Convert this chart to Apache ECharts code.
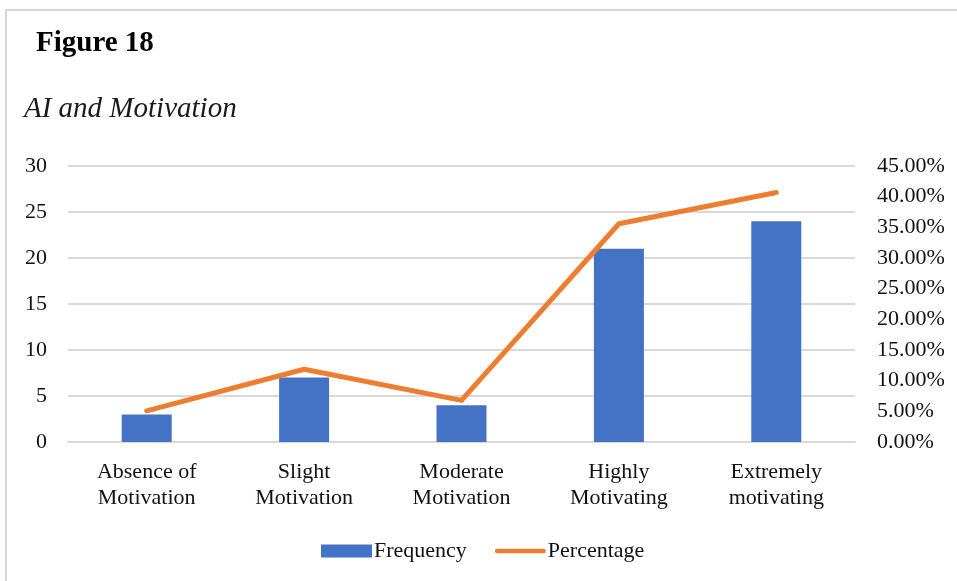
<!DOCTYPE html>
<html>
<head>
<meta charset="utf-8">
<script src="https://cdn.jsdelivr.net/npm/echarts@6/dist/echarts.min.js"></script>
<style>
  html, body { margin: 0; padding: 0; background: #ffffff; }
  #chart { width: 957px; height: 581px; }
</style>
</head>
<body>
<div id="chart"></div>
<script>
// Motivation levels on the category axis
const categories = [
  'Absence of\nMotivation',
  'Slight\nMotivation',
  'Moderate\nMotivation',
  'Highly\nMotivating',
  'Extremely\nmotivating'
];
// Number of respondents per level
const frequency = [3, 7, 4, 21, 24];
// Share of respondents per level (%)
const percentage = [5.08, 11.86, 6.78, 35.59, 40.68];

const serif = '"Liberation Serif", "Times New Roman", serif';
const textColor = '#111111';
const gridColor = '#d9d9d9';

const chart = echarts.init(document.getElementById('chart'), null, { renderer: 'canvas' });

chart.setOption({
  backgroundColor: '#ffffff',
  animation: false,
  textStyle: { fontFamily: serif, color: textColor },
  title: [
    {
      text: 'Figure 18',
      left: 31,
      top: 24,
      textStyle: { fontFamily: serif, fontSize: 29, fontWeight: 'bold', color: '#000000' }
    },
    {
      text: 'AI and Motivation',
      left: 19,
      top: 90,
      textStyle: { fontFamily: serif, fontSize: 29, fontStyle: 'italic', fontWeight: 'normal', color: '#1a1a1a' }
    }
  ],
  graphic: [
    // frame lines along the top and left edges
    { type: 'line', shape: { x1: 5, y1: 10, x2: 957, y2: 10 }, style: { stroke: '#d6d6d6', lineWidth: 2 }, silent: true },
    { type: 'line', shape: { x1: 6, y1: 10, x2: 6, y2: 581 }, style: { stroke: '#d6d6d6', lineWidth: 2 }, silent: true }
  ],
  legend: {
    left: 316,
    top: 535,
    itemWidth: 51,
    itemHeight: 13,
    itemGap: 28,
    textStyle: { fontFamily: serif, fontSize: 22, color: textColor, padding: [0, 0, 0, -3] },
    data: [
      { name: 'Frequency', icon: 'rect' },
      {
        name: 'Percentage',
        icon: 'path://M2.5,0 H54.5 A2.5,2.5 0 0 1 54.5,5 H2.5 A2.5,2.5 0 0 1 2.5,0 Z',
        itemStyle: { color: '#ed7d31' }
      }
    ]
  },
  grid: { left: 68, right: 102, top: 166, bottom: 139, containLabel: false },
  xAxis: {
    type: 'category',
    data: categories,
    axisTick: { show: false },
    axisLine: { show: true, lineStyle: { color: gridColor, width: 2 } },
    axisLabel: {
      fontFamily: serif,
      fontSize: 22,
      color: textColor,
      margin: 17,
      lineHeight: 26,
      interval: 0
    }
  },
  yAxis: [
    {
      type: 'value',
      min: 0,
      max: 30,
      interval: 5,
      axisLine: { show: false },
      axisTick: { show: false },
      splitLine: { lineStyle: { color: gridColor, width: 2 } },
      axisLabel: { fontFamily: serif, fontSize: 22, color: textColor, margin: 21 }
    },
    {
      type: 'value',
      min: 0,
      max: 45,
      interval: 5,
      position: 'right',
      axisLine: { show: false },
      axisTick: { show: false },
      splitLine: { show: false },
      axisLabel: {
        fontFamily: serif,
        fontSize: 22,
        color: textColor,
        margin: 22,
        formatter: v => v.toFixed(2) + '%'
      }
    }
  ],
  series: [
    {
      name: 'Frequency',
      type: 'bar',
      yAxisIndex: 0,
      data: frequency,
      barWidth: 50,
      itemStyle: { color: '#4472c4' }
    },
    {
      name: 'Percentage',
      type: 'line',
      yAxisIndex: 1,
      data: percentage,
      symbol: 'none',
      lineStyle: { color: '#ed7d31', width: 5, cap: 'round', join: 'round' },
      itemStyle: { color: '#ed7d31' }
    }
  ]
});
</script>
</body>
</html>
